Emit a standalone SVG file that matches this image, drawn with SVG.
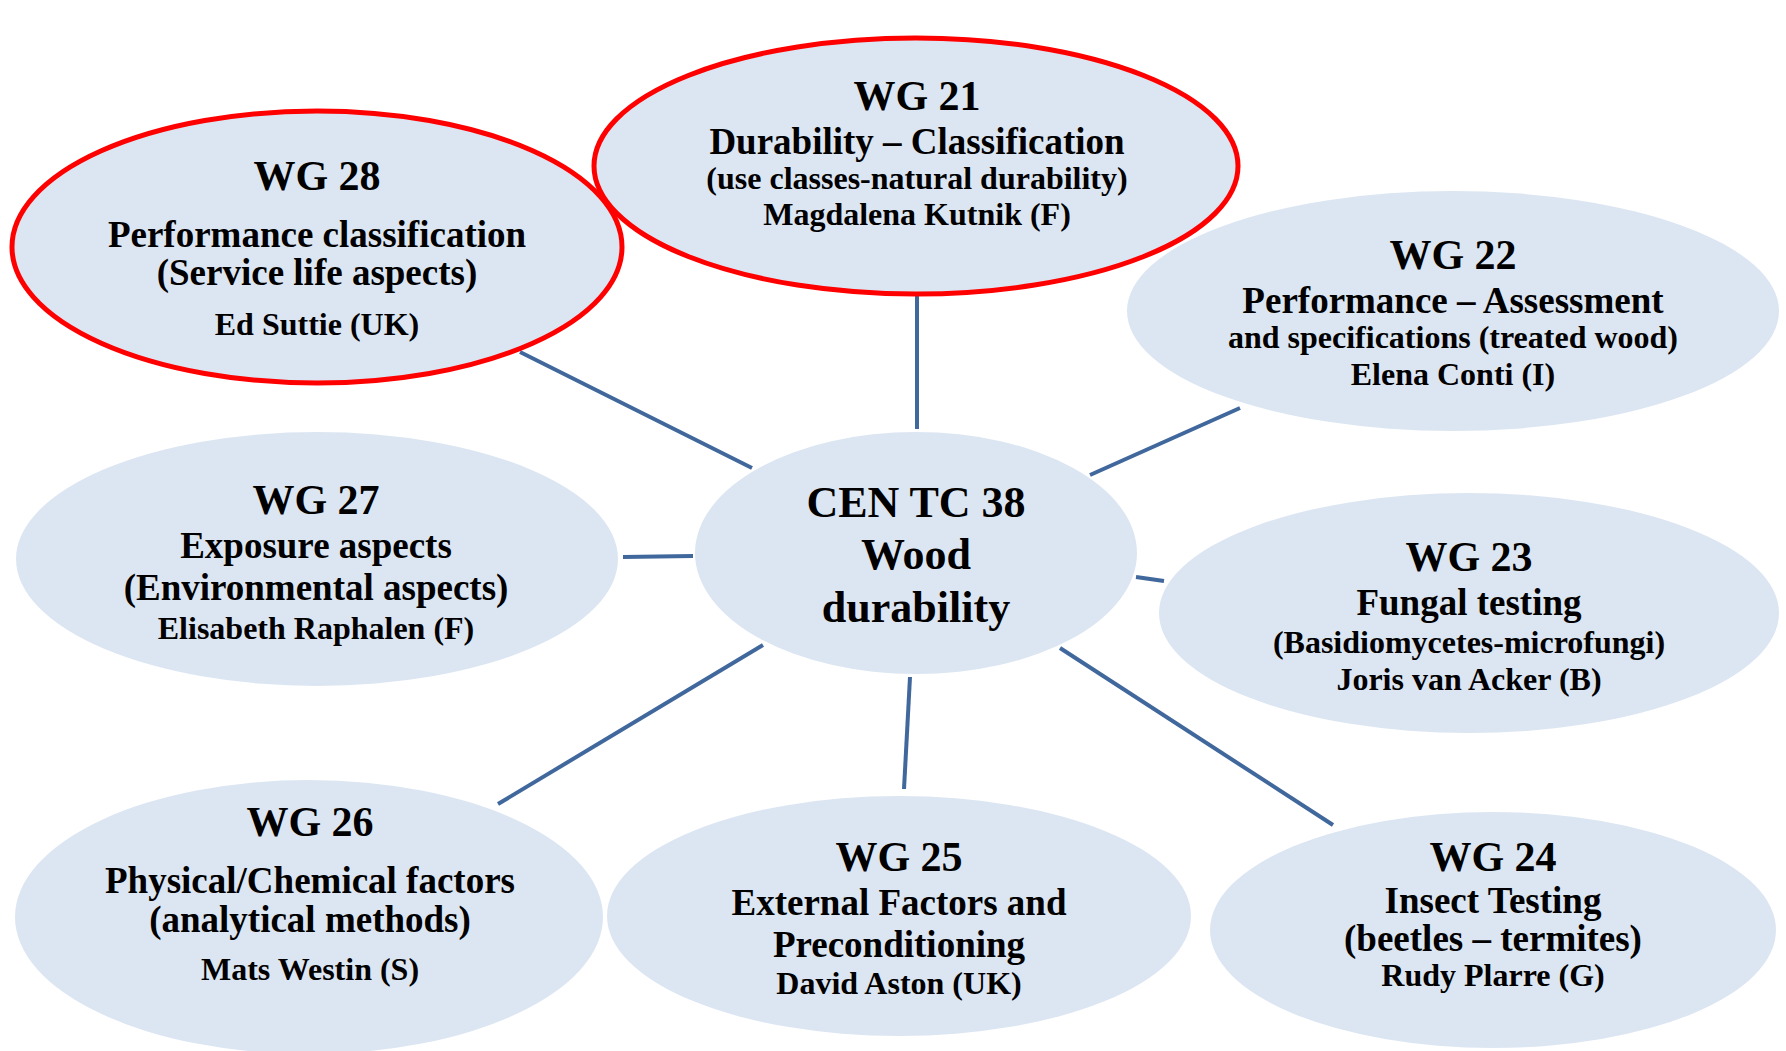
<svg xmlns="http://www.w3.org/2000/svg" width="1786" height="1051" viewBox="0 0 1786 1051">
<style>
.bg{fill:#ffffff}
.node{fill:#DCE6F2;stroke:none}
.hl{fill:#DCE6F2;stroke:#FF0000;stroke-width:5}
.conn line{stroke:#41689C;stroke-width:4;stroke-linecap:butt}
text{font-family:"Liberation Serif","Times New Roman",serif;font-weight:bold;fill:#000;text-anchor:middle}
.t{font-size:42px}
.m{font-size:37px}
.s{font-size:32px}
.c{font-size:44px}
</style>
<rect class="bg" x="0" y="0" width="1786" height="1051"/>
<g id="connectors" class="conn">
<line x1="520" y1="352" x2="752" y2="468"/>
<line x1="917" y1="296" x2="917" y2="429"/>
<line x1="1240" y1="408" x2="1090" y2="475"/>
<line x1="623" y1="557" x2="693" y2="556"/>
<line x1="1136" y1="577" x2="1164" y2="581"/>
<line x1="763" y1="645" x2="498" y2="804"/>
<line x1="910" y1="677" x2="904" y2="789"/>
<line x1="1060" y1="648" x2="1333" y2="825"/>
</g>
<g id="wg28">
<ellipse class="hl" cx="317" cy="247" rx="305" ry="136"/>
<text class="t" x="317" y="190">WG 28</text>
<text class="m" x="317" y="247">Performance classification</text>
<text class="m" x="317" y="285">(Service life aspects)</text>
<text class="s" x="317" y="335">Ed Suttie (UK)</text>
</g>
<g id="wg21">
<ellipse class="hl" cx="916" cy="166" rx="322" ry="128"/>
<text class="t" x="917" y="110">WG 21</text>
<text class="m" x="917" y="154">Durability – Classification</text>
<text class="s" x="917" y="189">(use classes-natural durability)</text>
<text class="s" x="917" y="225">Magdalena Kutnik (F)</text>
</g>
<g id="wg22">
<ellipse class="node" cx="1453" cy="311" rx="326" ry="120"/>
<text class="t" x="1453" y="269">WG 22</text>
<text class="m" x="1453" y="313">Performance – Assessment</text>
<text class="s" x="1453" y="348">and specifications (treated wood)</text>
<text class="s" x="1453" y="385">Elena Conti (I)</text>
</g>
<g id="wg27">
<ellipse class="node" cx="317" cy="559" rx="301" ry="127"/>
<text class="t" x="316" y="514">WG 27</text>
<text class="m" x="316" y="558">Exposure aspects</text>
<text class="m" x="316" y="600">(Environmental aspects)</text>
<text class="s" x="316" y="639">Elisabeth Raphalen (F)</text>
</g>
<g id="center">
<ellipse class="node" cx="916" cy="553" rx="221" ry="121"/>
<text class="c" x="916" y="517">CEN TC 38</text>
<text class="c" x="916" y="569">Wood</text>
<text class="c" x="916" y="622">durability</text>
</g>
<g id="wg23">
<ellipse class="node" cx="1469" cy="613" rx="310" ry="120"/>
<text class="t" x="1469" y="571">WG 23</text>
<text class="m" x="1469" y="615">Fungal testing</text>
<text class="s" x="1469" y="653">(Basidiomycetes-microfungi)</text>
<text class="s" x="1469" y="690">Joris van Acker (B)</text>
</g>
<g id="wg26">
<ellipse class="node" cx="309" cy="917" rx="294" ry="137"/>
<text class="t" x="310" y="836">WG 26</text>
<text class="m" x="310" y="893">Physical/Chemical factors</text>
<text class="m" x="310" y="932">(analytical methods)</text>
<text class="s" x="310" y="980">Mats Westin (S)</text>
</g>
<g id="wg25">
<ellipse class="node" cx="899" cy="916" rx="292" ry="120"/>
<text class="t" x="899" y="871">WG 25</text>
<text class="m" x="899" y="915">External Factors and</text>
<text class="m" x="899" y="957">Preconditioning</text>
<text class="s" x="899" y="994">David Aston (UK)</text>
</g>
<g id="wg24">
<ellipse class="node" cx="1493" cy="930" rx="283" ry="118"/>
<text class="t" x="1493" y="871">WG 24</text>
<text class="m" x="1493" y="913">Insect Testing</text>
<text class="m" x="1493" y="951">(beetles – termites)</text>
<text class="s" x="1493" y="986">Rudy Plarre (G)</text>
</g>
</svg>
